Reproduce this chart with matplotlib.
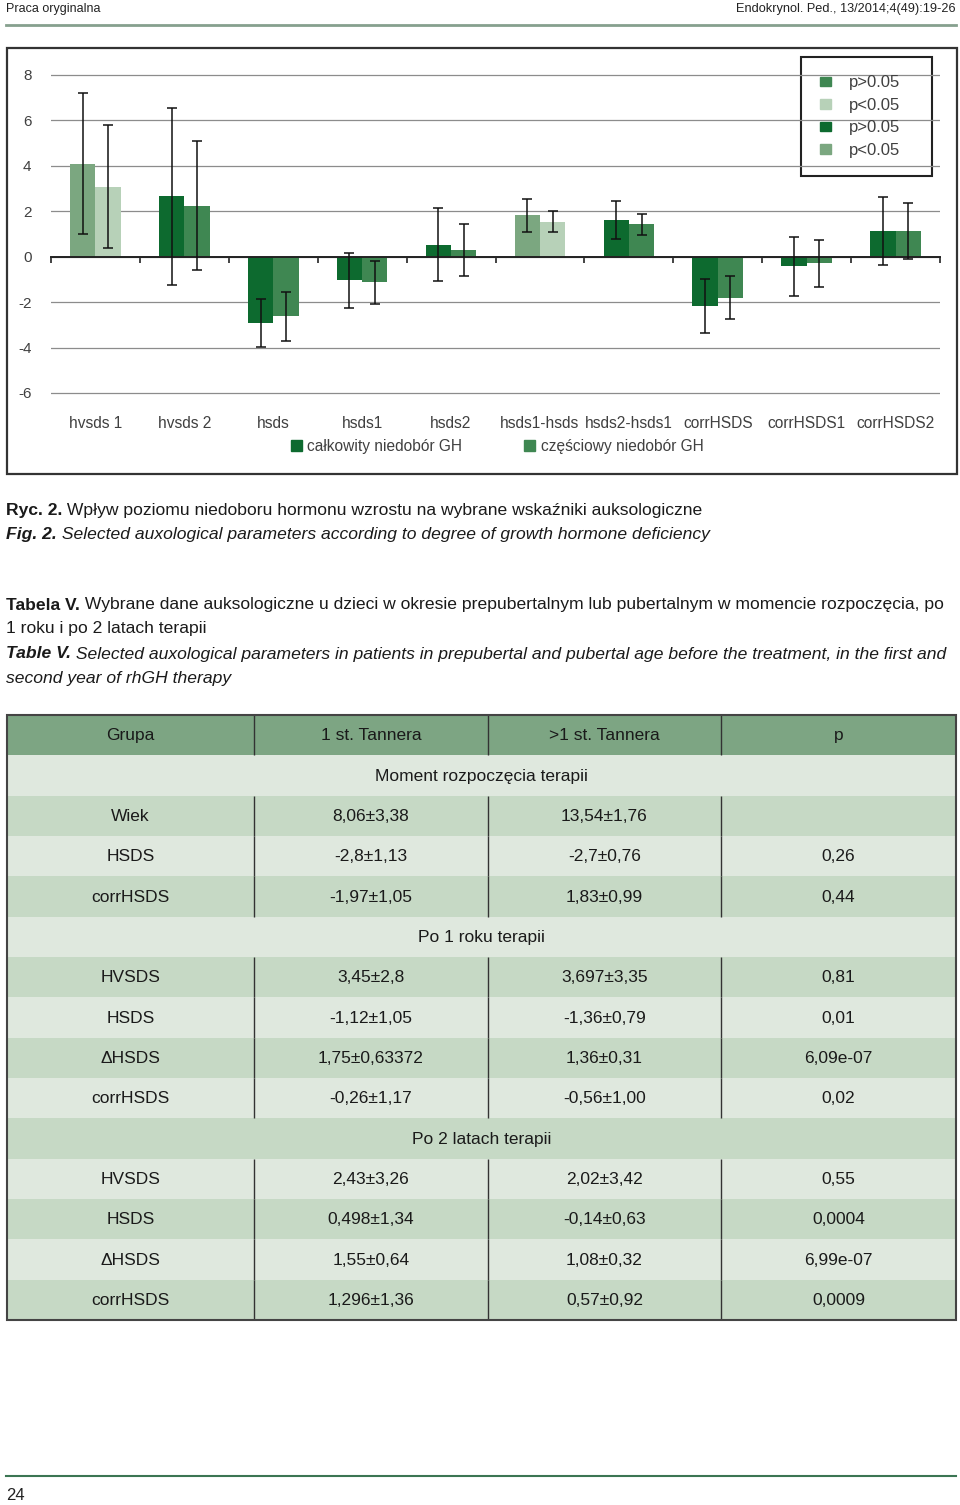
import matplotlib
matplotlib.use('Agg')
import matplotlib.pyplot as plt
import numpy as np
from matplotlib.patches import Patch, Rectangle

plt.rcParams['axes.unicode_minus'] = False  # keep plain hyphen minus

SANS = ['Liberation Sans', 'DejaVu Sans']
NSIZE = 12.6  # caption text size

# --- chart data ---
categories = ['hvsds 1', 'hvsds 2', 'hsds', 'hsds1', 'hsds2',
              'hsds1-hsds', 'hsds2-hsds1', 'corrHSDS', 'corrHSDS1', 'corrHSDS2']
complete_mean = [4.10, 2.66, -2.92, -1.04, 0.53, 1.83, 1.62, -2.16, -0.42, 1.13]
complete_sd = [3.10, 3.90, 1.04, 1.20, 1.62, 0.73, 0.83, 1.20, 1.30, 1.49]
partial_mean = [3.08, 2.25, -2.63, -1.13, 0.31, 1.55, 1.42, -1.81, -0.29, 1.13]
partial_sd = [2.70, 2.83, 1.07, 0.93, 1.14, 0.48, 0.48, 0.94, 1.03, 1.24]
significant = [True, False, False, False, False, True, False, False, False, False]
y_ticks = [-6, -4, -2, 0, 2, 4, 6, 8]
series_names = ['całkowity niedobór GH', 'częściowy niedobór GH']
legend_labels = ['p>0.05', 'p<0.05', 'p>0.05', 'p<0.05']

# --- table data ---
table_header = ['Grupa', '1 st. Tannera', '>1 st. Tannera', 'p']
sections = ['Moment rozpoczęcia terapii', 'Po 1 roku terapii', 'Po 2 latach terapii']
params = [['Wiek', 'HSDS', 'corrHSDS'],
          ['HVSDS', 'HSDS', 'ΔHSDS', 'corrHSDS'],
          ['HVSDS', 'HSDS', 'ΔHSDS', 'corrHSDS']]
tanner1 = [['8,06±3,38', '-2,8±1,13', '-1,97±1,05'],
           ['3,45±2,8', '-1,12±1,05', '1,75±0,63372', '-0,26±1,17'],
           ['2,43±3,26', '0,498±1,34', '1,55±0,64', '1,296±1,36']]
tanner_gt1 = [['13,54±1,76', '-2,7±0,76', '1,83±0,99'],
              ['3,697±3,35', '-1,36±0,79', '1,36±0,31', '-0,56±1,00'],
              ['2,02±3,42', '-0,14±0,63', '1,08±0,32', '0,57±0,92']]
p_values = [['', '0,26', '0,44'],
            ['0,81', '0,01', '6,09e-07', '0,02'],
            ['0,55', '0,0004', '6,99e-07', '0,0009']]

DARK = '#0d6a2f'
MID = '#3f8752'
GREYGREEN = '#7ba780'
LIGHT = '#b7d1b8'
TXT = '#404040'

W, H = 960, 1505
fig = plt.figure(figsize=(W / 100, H / 100), dpi=100)


def fig_rect(x0, y0, x1, y1):
    return [x0 / W, 1 - y1 / H, (x1 - x0) / W, (y1 - y0) / H]


page = fig.add_axes([0, 0, 1, 1])
page.set_xlim(0, W)
page.set_ylim(H, 0)
page.axis('off')

# page header
page.text(6, 9, 'Praca oryginalna', family=SANS, fontsize=9, va='center', color='#222')
page.text(956, 9, 'Endokrynol. Ped., 13/2014;4(49):19-26', family=SANS, fontsize=9.2,
          va='center', ha='right', color='#222')
page.plot([6, 956], [25, 25], color='#86a08e', lw=2)

# chart frame
page.add_patch(Rectangle((7, 48), 950, 426, fill=False, ec='#333333', lw=1.6))

# --- bar chart ---
px_unit = 318 / 14
ax = fig.add_axes(fig_rect(51, 73, 940, 395))
ax.set_facecolor('none')
x = np.arange(len(categories))
w = 0.285
c1 = [GREYGREEN if s else DARK for s in significant]
c2 = [LIGHT if s else MID for s in significant]
ax.bar(x - w / 2, complete_mean, w, color=c1, zorder=2)
ax.bar(x + w / 2, partial_mean, w, color=c2, zorder=2)
err_kw = dict(fmt='none', ecolor='#111111', elinewidth=1.1, capsize=3.6, capthick=1.1, zorder=3)
ax.errorbar(x - w / 2, complete_mean, yerr=complete_sd, **err_kw)
ax.errorbar(x + w / 2, partial_mean, yerr=partial_sd, **err_kw)

ax.set_xlim(-0.5, len(categories) - 0.5)
ax.set_ylim(-6 - 2 / px_unit, 8 + 2 / px_unit)
ax.set_yticks(y_ticks)
ax.set_yticklabels([str(t) for t in y_ticks], color=TXT, family=SANS, fontsize=11)
ax.tick_params(axis='y', length=0, pad=14)
ax.yaxis.grid(True, color='#8c8c8c', lw=0.9, zorder=0)
ax.set_axisbelow(True)
for s in ['left', 'right', 'top']:
    ax.spines[s].set_visible(False)
ax.spines['bottom'].set_position(('data', 0))
ax.spines['bottom'].set_color('#222222')
ax.spines['bottom'].set_linewidth(1.4)
ax.spines['bottom'].set_zorder(2.5)
ax.set_xticks(np.arange(len(categories) + 1) - 0.5)
ax.tick_params(axis='x', direction='out', length=4, width=1.2, color='#222222', labelbottom=False)
for i, lab in enumerate(categories):
    ax.text(i, -6 - 31 / px_unit, lab, ha='center', va='center', clip_on=False,
            family=SANS, fontsize=11.2, color=TXT)

# significance legend (box drawn separately)
page.add_patch(Rectangle((801, 57), 131, 119, fill=False, ec='#222222', lw=1.5, zorder=5))
sig_handles = [Patch(color=c) for c in [MID, LIGHT, DARK, GREYGREEN]]
fig.legend(sig_handles, legend_labels, loc='upper left',
           bbox_to_anchor=(812 / W, 1 - 67 / H), frameon=False,
           prop={'family': SANS, 'size': 12}, handlelength=0.65, handleheight=0.5,
           handletextpad=1.05, labelspacing=0.45, labelcolor=TXT, borderpad=0)

# series legend under the chart
fig.legend([Patch(color=DARK), Patch(color=MID)], series_names, loc='center',
           bbox_to_anchor=(497 / W, 1 - 446 / H), ncol=2, frameon=False,
           prop={'family': SANS, 'size': 11.2}, handlelength=0.7, handleheight=0.7,
           handletextpad=0.35, columnspacing=4.0, labelcolor=TXT, borderpad=0)


# --- captions ---
def rich_line(x0, y0, bold, rest, italic=False):
    style = 'italic' if italic else 'normal'
    t = page.text(x0, y0, bold, family=SANS, fontsize=NSIZE, fontweight='bold',
                  style=style, va='center', color='#1a1a1a')
    page.annotate(rest, xy=(1, 0.5), xycoords=t, va='center', ha='left', family=SANS,
                  fontsize=NSIZE, style=style, color='#1a1a1a')


rich_line(6, 511, 'Ryc. 2.', ' Wpływ poziomu niedoboru hormonu wzrostu na wybrane wskaźniki auksologiczne')
rich_line(6, 535, 'Fig. 2.', ' Selected auxological parameters according to degree of growth hormone deficiency',
          italic=True)
rich_line(6, 605, 'Tabela V.', ' Wybrane dane auksologiczne u dzieci w okresie prepubertalnym lub pubertalnym'
          ' w momencie rozpoczęcia, po')
page.text(6, 629, '1 roku i po 2 latach terapii', family=SANS, fontsize=NSIZE, va='center', color='#1a1a1a')
rich_line(6, 654, 'Table V.', ' Selected auxological parameters in patients in prepubertal and pubertal age'
          ' before the treatment, in the first and', italic=True)
page.text(6, 678, 'second year of rhGH therapy', family=SANS, fontsize=NSIZE, style='italic',
          va='center', color='#1a1a1a')

# --- table ---
tab = fig.add_axes(fig_rect(7, 715, 956, 1320))
col_edges = [0, 247, 481, 714, 949]
n_rows = 1 + sum(1 + len(p) for p in params)
tab.set_xlim(0, col_edges[-1])
tab.set_ylim(n_rows, 0)
tab.axis('off')

rows = [('cells', table_header)]
for sec, names, a, b, p in zip(sections, params, tanner1, tanner_gt1, p_values):
    rows.append(('section', sec))
    for r in zip(names, a, b, p):
        rows.append(('cells', list(r)))

row_colors = ['#7da583'] + ['#dfe8de' if i % 2 == 0 else '#c6d9c5' for i in range(n_rows - 1)]
tab.barh(np.arange(n_rows) + 0.5, col_edges[-1], height=1.0, left=0, color=row_colors, zorder=1)

centers = [(col_edges[i] + col_edges[i + 1]) / 2 for i in range(4)]
for i, (kind, content) in enumerate(rows):
    yc = i + 0.52
    if kind == 'section':
        tab.text(col_edges[-1] / 2, yc, content, ha='center', va='center', family=SANS,
                 fontsize=12.5, color='#1a1a1a', zorder=3)
    else:
        for cx, val in zip(centers, content):
            tab.text(cx, yc, val, ha='center', va='center', family=SANS,
                     fontsize=12.5, color='#1a1a1a', zorder=3)
        tab.vlines(col_edges[1:4], i, i + 1, color='#333333', lw=1.0, zorder=2)
tab.add_patch(Rectangle((0, 0), col_edges[-1], n_rows, fill=False, ec='#444444', lw=1.5,
                        clip_on=False, zorder=4))

# footer
page.plot([6, 956], [1476, 1476], color='#3b7553', lw=1.5)
page.text(6, 1495, '24', family=SANS, fontsize=12, va='center', color='#222')

fig.savefig('out.png', dpi=100)
